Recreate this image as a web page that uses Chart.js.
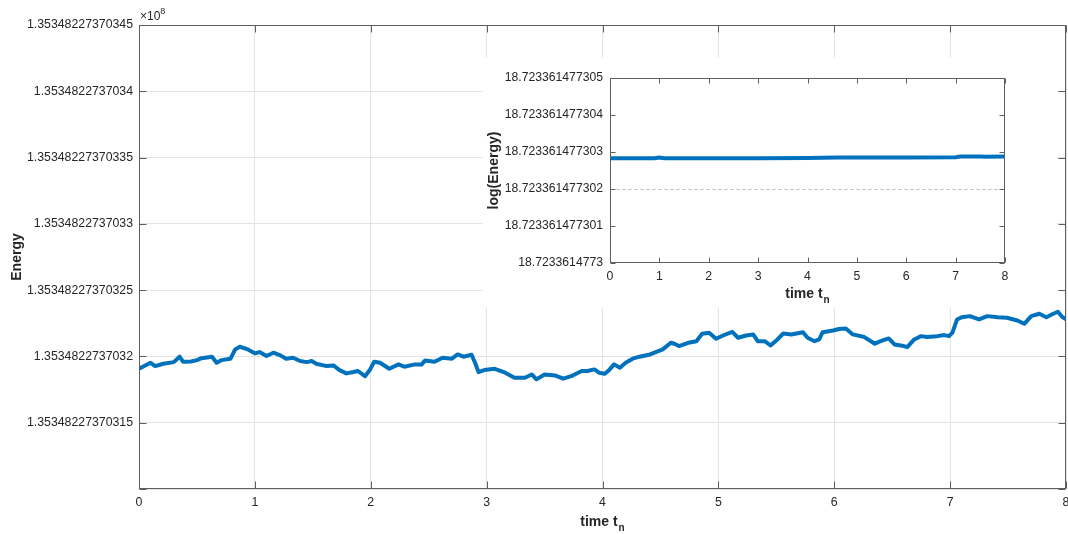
<!DOCTYPE html>
<html>
<head>
<meta charset="utf-8">
<script src="https://cdn.jsdelivr.net/npm/chart.js@4.4.0/dist/chart.umd.min.js"></script>
<style>
  html, body { margin: 0; padding: 0; background: #fff; }
  #wrap { position: relative; width: 1068px; height: 534px; overflow: hidden; }
  #main { position: absolute; left: 0; top: 0; }
  #insetBox { position: absolute; left: 483px; top: 58px; width: 574px; height: 250px; background: #fff; }
</style>
</head>
<body>
<div id="wrap">
  <canvas id="main" width="1068" height="534"></canvas>
  <div id="insetBox"><canvas id="inset" width="574" height="250"></canvas></div>
</div>
<script>
// Energy trace: time t_n and energy, stored as the trailing digits in units of 1e-14 (x 1e8)
// above 1.3534822737030 (x 1e8).
const timeMain = [
  0, 0.1, 0.14, 0.21, 0.3, 0.35, 0.38, 0.45, 0.5, 0.54, 0.63, 0.67, 0.71, 0.79, 0.83, 0.87, 0.94,
  1.0, 1.04, 1.1, 1.16, 1.22, 1.27, 1.33, 1.39, 1.45, 1.49, 1.53, 1.62, 1.68, 1.73, 1.79, 1.85, 1.89, 1.95, 1.99,
  2.03, 2.08, 2.16, 2.24, 2.29, 2.38, 2.44, 2.47, 2.55, 2.62, 2.7, 2.75, 2.8, 2.87, 2.9, 2.93, 2.98,
  3.07, 3.16, 3.24, 3.33, 3.39, 3.43, 3.5, 3.59, 3.66, 3.73, 3.82, 3.87, 3.93, 3.97,
  4.02, 4.06, 4.1, 4.15, 4.2, 4.26, 4.32, 4.41, 4.46, 4.52, 4.59, 4.62, 4.66, 4.74, 4.81, 4.86, 4.92, 4.98,
  5.04, 5.12, 5.17, 5.24, 5.3, 5.34, 5.4, 5.45, 5.51, 5.56, 5.63, 5.73, 5.77, 5.83, 5.87, 5.9, 5.99,
  6.04, 6.1, 6.16, 6.26, 6.35, 6.4, 6.47, 6.52, 6.6, 6.63, 6.69, 6.75, 6.8, 6.89, 6.95, 6.99,
  7.02, 7.06, 7.1, 7.17, 7.25, 7.32, 7.41, 7.49, 7.58, 7.64, 7.7, 7.77, 7.83, 7.89, 7.93, 7.97, 8.0
];
const energyDigits = [
  19.07, 19.52, 19.27, 19.45, 19.57, 19.98, 19.6, 19.62, 19.72, 19.87, 19.98, 19.52, 19.72, 19.83, 20.53, 20.73, 20.53,
  20.23, 20.33, 20.03, 20.28, 20.08, 19.83, 19.9, 19.65, 19.57, 19.65, 19.45, 19.27, 19.32, 18.97, 18.72, 18.82, 18.9, 18.51, 18.95,
  19.6, 19.52, 19.07, 19.4, 19.22, 19.4, 19.4, 19.7, 19.6, 19.9, 19.83, 20.15, 19.98, 20.13, 19.52, 18.82, 18.97,
  19.07, 18.77, 18.39, 18.39, 18.64, 18.27, 18.64, 18.57, 18.32, 18.51, 18.9, 18.9, 19.02, 18.77,
  18.7, 19.0, 19.4, 19.15, 19.52, 19.83, 19.98, 20.15, 20.33, 20.53, 21.03, 20.96, 20.78, 21.03, 21.15, 21.71, 21.79, 21.33,
  21.58, 21.86, 21.41, 21.58, 21.66, 21.15, 21.15, 20.83, 21.28, 21.73, 21.66, 21.83, 21.41, 21.15, 21.28, 21.83, 21.96,
  22.07, 22.11, 21.66, 21.46, 20.96, 21.15, 21.36, 20.9, 20.78, 20.7, 21.28, 21.53, 21.46, 21.53, 21.61, 21.53,
  21.79, 22.79, 22.96, 23.04, 22.79, 23.04, 22.96, 22.92, 22.71, 22.46, 23.04, 23.22, 22.96, 23.22, 23.37, 22.96, 22.79
];
const energyTickValues = [15, 20, 25, 30, 35, 40, 45];
const energyTickLabels = [
  '1.35348227370315', '1.3534822737032', '1.35348227370325', '1.3534822737033',
  '1.35348227370335', '1.3534822737034', '1.35348227370345'
];
const timeTicks = [0, 1, 2, 3, 4, 5, 6, 7, 8];

// log(Energy): trailing digits in units of 1e-12 above 18.7233614773
const timeLog = [0, 0.9, 1.0, 1.1, 2, 3, 4, 4.6, 5, 6, 7, 7.1, 7.5, 7.6, 8];
const logEnergyDigits = [2.83, 2.83, 2.85, 2.83, 2.83, 2.83, 2.84, 2.85, 2.85, 2.85, 2.86, 2.88, 2.88, 2.87, 2.88];
const logTickValues = [0, 1, 2, 3, 4, 5];
const logTickLabels = [
  '18.7233614773', '18.723361477301', '18.723361477302',
  '18.723361477303', '18.723361477304', '18.723361477305'
];
const logReference = 2;

const LINE = '#0072BD';
const TEXT = '#262626';
const AXIS = '#5e5e5e';
const GRID = '#e4e4e4';
const FONT = '"Liberation Sans", Arial, Helvetica, sans-serif';

function toPoints(xs, ys) { return xs.map((x, i) => ({ x: x, y: ys[i] })); }

// Box around the plot area with inward tick marks on all four sides, plus axis titles.
function framePlugin(cfg) {
  return {
    id: 'frame',
    afterDraw(chart) {
      const ctx = chart.ctx;
      const a = chart.chartArea;
      const xs = chart.scales.x, ys = chart.scales.y;
      const L = Math.round(a.left) + 0.5, R = Math.round(a.right) - 0.5;
      const T = Math.round(a.top) + 0.5, B = Math.round(a.bottom) - 0.5;
      ctx.save();
      if (cfg.refLine !== undefined) {
        const py = Math.round(ys.getPixelForValue(cfg.refLine)) + 0.5;
        ctx.strokeStyle = '#b9b9b9';
        ctx.lineWidth = 1;
        ctx.setLineDash([3, 3]);
        ctx.beginPath(); ctx.moveTo(L, py); ctx.lineTo(R, py); ctx.stroke();
        ctx.setLineDash([]);
      }
      ctx.strokeStyle = AXIS;
      ctx.lineWidth = 1;
      ctx.strokeRect(L, T, R - L, B - T);
      const tl = cfg.tickLen;
      ctx.beginPath();
      xs.ticks.forEach(t => {
        const px = Math.round(xs.getPixelForValue(t.value)) + 0.5;
        ctx.moveTo(px, B); ctx.lineTo(px, B - tl);
        ctx.moveTo(px, T); ctx.lineTo(px, T + tl);
      });
      ys.ticks.forEach(t => {
        const py = Math.round(ys.getPixelForValue(t.value)) + 0.5;
        ctx.moveTo(L, py); ctx.lineTo(L + tl, py);
        ctx.moveTo(R, py); ctx.lineTo(R - tl, py);
      });
      ctx.stroke();

      ctx.fillStyle = TEXT;
      // x title: "time t" with subscript n
      const cx = (a.left + a.right) / 2;
      ctx.font = 'bold 14px ' + FONT;
      const w1 = ctx.measureText('time t').width;
      ctx.font = 'bold 10px ' + FONT;
      const w2 = ctx.measureText('n').width;
      const x0 = cx - (w1 + w2 + 1) / 2;
      ctx.textAlign = 'left';
      ctx.textBaseline = 'alphabetic';
      ctx.font = 'bold 14px ' + FONT;
      ctx.fillText('time t', x0, cfg.xTitleY);
      ctx.font = 'bold 10px ' + FONT;
      ctx.fillText('n', x0 + w1 + 1, cfg.xTitleY + 5);
      // y title
      ctx.save();
      ctx.translate(cfg.yTitleX, (a.top + a.bottom) / 2);
      ctx.rotate(-Math.PI / 2);
      ctx.font = 'bold 14px ' + FONT;
      ctx.textAlign = 'center';
      ctx.textBaseline = 'middle';
      ctx.fillText(cfg.yTitle, 0, 0);
      ctx.restore();
      // exponent marker
      if (cfg.exponent) {
        ctx.font = '12px ' + FONT;
        ctx.textAlign = 'left';
        ctx.textBaseline = 'alphabetic';
        const base = '\u00d710';
        ctx.fillText(base, a.left + 1, a.top - 5);
        const bw = ctx.measureText(base).width;
        ctx.font = '9px ' + FONT;
        ctx.fillText(cfg.exponent, a.left + 1 + bw, a.top - 11);
      }
      ctx.restore();
    }
  };
}

function tickLabel(values, labels) {
  return function (v) {
    const i = values.indexOf(Math.round(v * 1000) / 1000);
    return i >= 0 ? labels[i] : '';
  };
}

function fixedHeight(h) {
  return s => { s.height = h; s.paddingLeft = 0; s.paddingRight = 0; };
}
function fixedWidth(w) {
  return s => { s.width = w; s.paddingTop = 0; s.paddingBottom = 0; };
}

new Chart(document.getElementById('main'), {
  type: 'line',
  data: {
    datasets: [{
      data: toPoints(timeMain, energyDigits),
      borderColor: LINE,
      borderWidth: 4,
      pointRadius: 0,
      tension: 0,
      borderJoinStyle: 'round'
    }]
  },
  options: {
    responsive: false,
    animation: false,
    events: [],
    layout: { padding: { top: 25, right: 2, left: 0, bottom: 0 } },
    plugins: { legend: { display: false }, tooltip: { enabled: false } },
    scales: {
      x: {
        type: 'linear', min: 0, max: 8,
        afterBuildTicks: s => { s.ticks = timeTicks.map(v => ({ value: v })); },
        afterFit: fixedHeight(45),
        grid: { color: GRID, drawTicks: false },
        border: { display: false },
        ticks: { color: TEXT, padding: 6, font: { family: FONT, size: 12.3 }, maxRotation: 0 }
      },
      y: {
        type: 'linear', min: 10, max: 45,
        afterBuildTicks: s => { s.ticks = [10].concat(energyTickValues).map(v => ({ value: v })); },
        afterFit: fixedWidth(139),
        grid: { color: GRID, drawTicks: false },
        border: { display: false },
        ticks: { color: TEXT, padding: 6, font: { family: FONT, size: 12.3 },
                 callback: tickLabel(energyTickValues, energyTickLabels) }
      }
    }
  },
  plugins: [framePlugin({ tickLen: 7, xTitleY: 526, yTitleX: 17, yTitle: 'Energy', exponent: '8' })]
});

new Chart(document.getElementById('inset'), {
  type: 'line',
  data: {
    datasets: [{
      data: toPoints(timeLog, logEnergyDigits),
      borderColor: LINE,
      borderWidth: 4,
      pointRadius: 0,
      tension: 0
    }]
  },
  options: {
    responsive: false,
    animation: false,
    events: [],
    layout: { padding: { top: 20, right: 52, left: 0, bottom: 0 } },
    plugins: { legend: { display: false }, tooltip: { enabled: false } },
    scales: {
      x: {
        type: 'linear', min: 0, max: 8,
        afterBuildTicks: s => { s.ticks = timeTicks.map(v => ({ value: v })); },
        afterFit: fixedHeight(45),
        grid: { drawOnChartArea: false, drawTicks: false, color: 'rgba(0,0,0,0)' },
        border: { display: false },
        ticks: { color: TEXT, padding: 6, font: { family: FONT, size: 12.3 }, maxRotation: 0 }
      },
      y: {
        type: 'linear', min: 0, max: 5,
        afterBuildTicks: s => { s.ticks = logTickValues.map(v => ({ value: v })); },
        afterFit: fixedWidth(127),
        grid: { drawOnChartArea: false, drawTicks: false, color: 'rgba(0,0,0,0)' },
        border: { display: false },
        ticks: { color: TEXT, padding: 7, font: { family: FONT, size: 12.2 },
                 callback: tickLabel(logTickValues, logTickLabels) }
      }
    }
  },
  plugins: [framePlugin({ tickLen: 5, xTitleY: 240, yTitleX: 11, yTitle: 'log(Energy)', refLine: logReference })]
});
</script>
</body>
</html>
